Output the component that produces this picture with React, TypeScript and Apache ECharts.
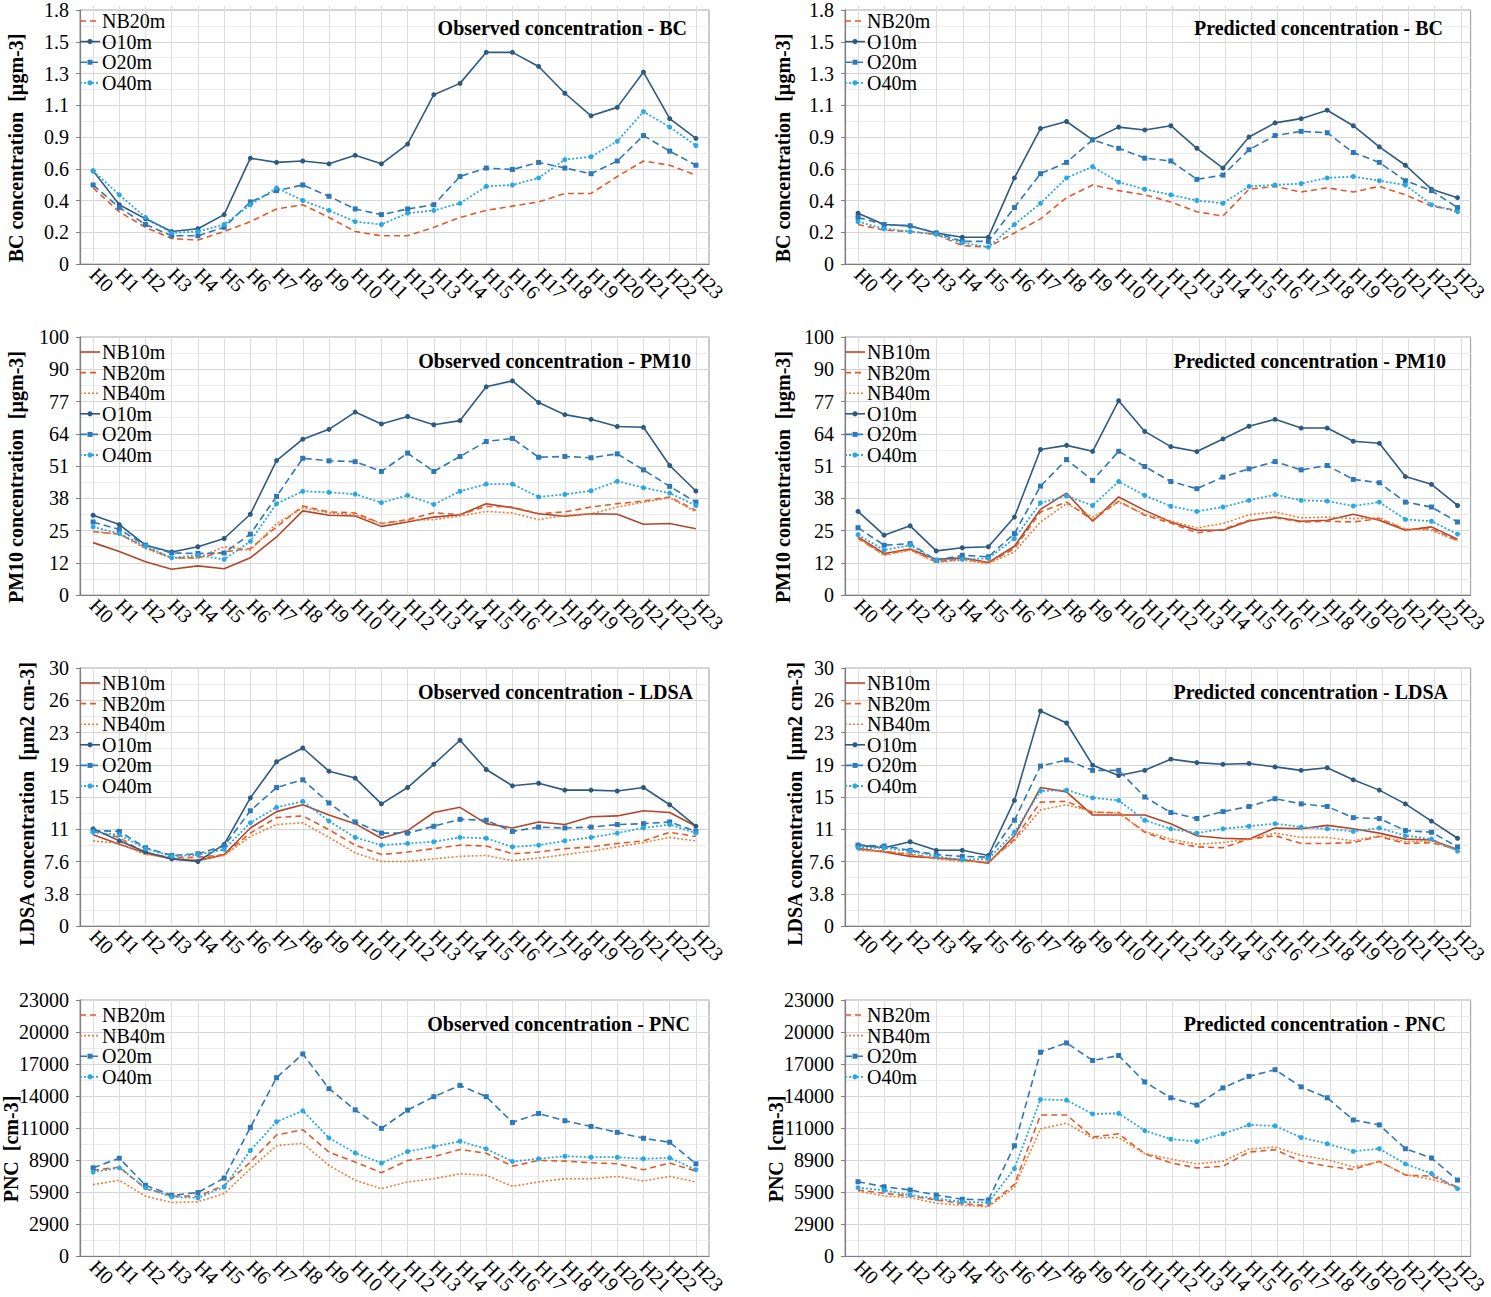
import React, { useEffect, useRef } from "react";
import * as echarts from "echarts";

const hours = ["H0","H1","H2","H3","H4","H5","H6","H7","H8","H9","H10","H11","H12","H13","H14","H15","H16","H17","H18","H19","H20","H21","H22","H23"];

const bcTicks = ["0","0.2","0.4","0.6","0.9","1.1","1.3","1.5","1.8"];
const pmTicks = ["0","12","25","38","51","64","77","90","100"];
const ldTicks = ["0","3.8","7.6","11","15","19","23","26","30"];
const pncTicks = ["0","2900","5900","8900","11000","14000","17000","20000","23000"];

// BC observed
const bcObsNB20 = [0.54,0.37,0.26,0.18,0.17,0.23,0.30,0.39,0.42,0.33,0.23,0.20,0.20,0.26,0.33,0.38,0.41,0.44,0.50,0.50,0.62,0.73,0.70,0.63];
const bcObsO10 = [0.66,0.42,0.32,0.23,0.25,0.35,0.75,0.72,0.73,0.71,0.77,0.71,0.85,1.20,1.28,1.50,1.50,1.40,1.21,1.05,1.11,1.36,1.03,0.89];
const bcObsO20 = [0.56,0.40,0.28,0.20,0.20,0.26,0.44,0.52,0.56,0.48,0.39,0.35,0.39,0.42,0.62,0.68,0.67,0.72,0.68,0.64,0.73,0.91,0.80,0.70];
const bcObsO40 = [0.66,0.49,0.33,0.22,0.23,0.28,0.42,0.54,0.45,0.38,0.30,0.28,0.36,0.38,0.43,0.55,0.56,0.61,0.74,0.76,0.87,1.08,0.97,0.84];
// BC predicted
const bcPrdNB20 = [0.28,0.24,0.23,0.21,0.13,0.12,0.22,0.32,0.47,0.56,0.52,0.49,0.44,0.37,0.34,0.53,0.55,0.51,0.54,0.51,0.55,0.49,0.41,0.38];
const bcPrdO10 = [0.36,0.28,0.27,0.22,0.19,0.19,0.61,0.96,1.01,0.88,0.97,0.95,0.98,0.82,0.68,0.90,1.00,1.03,1.09,0.98,0.83,0.70,0.53,0.47];
const bcPrdO20 = [0.33,0.28,0.27,0.22,0.16,0.16,0.40,0.64,0.72,0.88,0.82,0.75,0.73,0.60,0.63,0.81,0.91,0.94,0.93,0.79,0.72,0.59,0.52,0.40];
const bcPrdO40 = [0.30,0.25,0.23,0.21,0.15,0.12,0.28,0.43,0.61,0.69,0.58,0.53,0.49,0.45,0.43,0.55,0.56,0.57,0.61,0.62,0.59,0.56,0.42,0.37];
// PM10 observed
const pmObsNB10 = [20.3,16.9,12.9,10.0,11.3,10.2,14.4,22.5,32.6,30.9,30.6,26.6,28.3,30.2,31.1,35.4,33.8,31.5,30.5,31.5,31.3,27.4,27.7,25.7];
const pmObsNB20 = [24.5,23.6,18.4,14.4,14.4,16.7,18.0,26.4,34.5,32.2,31.8,27.7,29.2,31.9,31.1,34.4,34.1,31.5,32.2,34.1,35.4,36.4,38.0,32.8];
const pmObsNB40 = [24.7,23.6,18.0,14.2,14.4,18.7,17.4,27.7,33.8,31.8,31.1,27.7,29.0,29.2,30.6,32.4,31.8,29.2,30.9,31.5,34.1,36.0,37.7,32.2];
const pmObsO10 = [30.9,27.3,19.3,16.7,18.7,21.9,31.3,52.1,60.4,64.2,70.9,66.3,69.2,66.0,67.6,80.7,83.0,74.6,69.9,68.1,65.3,65.0,50.2,40.3];
const pmObsO20 = [28.3,25.4,19.3,16.3,16.1,16.3,23.6,38.2,53.0,52.0,51.7,47.9,55.0,47.9,53.7,59.5,60.7,53.4,53.7,53.2,54.7,48.5,42.1,36.0];
const pmObsO40 = [26.4,23.8,18.9,14.4,15.4,13.8,20.8,35.4,40.2,39.8,39.1,35.8,38.6,35.1,40.2,43.0,43.0,38.0,39.0,40.4,44.1,41.6,39.5,34.7];
// PM10 predicted
const pmPrdNB10 = [22.5,16.1,17.8,13.8,14.4,12.6,18.9,33.2,39.5,28.6,38.0,32.8,28.3,25.1,25.1,28.7,30.2,28.6,29.0,31.3,29.0,25.1,26.4,21.6];
const pmPrdNB20 = [21.9,15.7,17.6,12.9,14.0,12.5,18.0,32.2,36.0,29.0,36.4,30.9,27.9,24.1,25.4,29.0,30.0,28.3,28.6,28.3,29.6,25.4,25.7,21.0];
const pmPrdNB40 = [22.1,15.4,17.4,12.6,13.5,12.2,16.7,28.3,35.4,30.2,36.0,31.3,28.7,26.0,27.7,31.1,32.2,29.9,30.2,29.6,29.9,25.5,25.1,21.0];
const pmPrdO10 = [32.4,23.2,26.8,17.1,18.3,18.7,30.2,56.4,58.0,55.7,75.3,63.4,57.5,55.6,60.5,65.4,68.1,64.7,64.7,59.6,58.8,45.9,42.9,34.7];
const pmPrdO20 = [26.1,19.3,19.9,13.5,15.4,14.8,23.8,42.2,52.5,44.4,55.7,49.8,44.0,41.2,45.7,48.9,51.7,48.5,50.2,44.8,43.5,36.0,34.1,28.3];
const pmPrdO40 = [23.4,17.4,19.3,13.5,13.8,14.2,21.9,35.7,38.4,34.7,44.0,38.6,34.4,32.4,34.1,36.7,38.9,36.7,36.4,34.5,36.0,29.3,28.6,23.6];
// LDSA observed
const ldObsNB10 = [10.6,9.5,8.5,7.8,7.6,8.3,11.4,13.3,14.1,12.9,11.9,10.2,11.1,13.2,13.8,11.9,11.4,12.1,11.8,12.7,12.8,13.4,13.2,11.6];
const ldObsNB20 = [11.0,10.3,8.4,8.0,8.0,8.3,10.8,12.6,12.8,11.2,9.4,8.3,8.6,9.0,9.4,9.3,8.4,8.6,9.0,9.2,9.6,9.9,10.9,10.4];
const ldObsNB40 = [9.9,9.6,8.3,7.9,7.7,8.2,10.4,11.8,12.0,10.3,8.5,7.5,7.5,7.8,8.1,8.2,7.6,7.9,8.3,8.7,9.2,9.7,10.3,9.9];
const ldObsO10 = [11.3,9.9,8.6,7.8,7.5,9.5,14.9,19.1,20.7,18.0,17.2,14.2,16.1,18.8,21.6,18.2,16.3,16.6,15.8,15.8,15.7,16.1,14.1,11.6];
const ldObsO20 = [11.1,11.0,9.1,8.2,8.4,9.3,13.4,16.1,17.0,14.3,12.1,10.8,10.8,11.6,12.4,12.3,11.0,11.5,11.4,11.5,11.8,11.9,12.1,11.0];
const ldObsO40 = [10.9,10.6,9.0,8.1,8.3,8.9,12.0,13.8,14.5,12.2,10.3,9.4,9.6,9.8,10.3,10.2,9.2,9.4,9.9,10.3,10.8,11.4,11.8,10.8];
// LDSA predicted
const ldPrdNB10 = [9.0,8.6,8.1,7.9,7.7,7.3,10.5,16.1,15.6,12.9,12.9,12.9,11.9,10.5,10.2,10.1,11.4,11.3,11.7,11.3,10.8,10.1,10.0,8.9];
const ldPrdNB20 = [8.9,8.7,8.3,7.9,7.6,7.4,10.1,14.4,14.5,13.2,13.2,10.9,9.8,9.2,9.1,10.1,10.5,9.6,9.6,9.7,10.4,9.6,9.7,8.9];
const ldPrdNB40 = [8.8,8.7,8.4,7.8,7.5,7.5,9.9,13.5,14.1,13.3,13.1,11.0,10.1,9.5,9.7,10.1,10.8,10.3,10.3,9.9,10.5,9.8,9.9,8.8];
const ldPrdO10 = [9.4,9.1,9.8,8.8,8.8,8.2,14.6,25.0,23.6,18.7,17.5,18.1,19.4,19.0,18.8,18.9,18.5,18.1,18.4,17.0,15.8,14.2,12.2,10.2];
const ldPrdO20 = [9.4,9.3,8.8,8.3,8.1,8.0,12.3,18.6,19.3,18.1,18.1,15.0,13.2,12.5,13.3,13.9,14.8,14.2,13.9,12.6,12.5,11.1,10.9,9.2];
const ldPrdO40 = [9.1,9.1,8.7,8.1,7.7,7.8,10.9,15.7,15.8,14.9,14.6,12.3,11.3,10.8,11.3,11.6,11.9,11.5,11.3,11.0,11.4,10.5,10.1,8.7];
// PNC observed
const pncObsNB20 = [7720,8010,6080,5430,5400,6380,8460,10890,11370,9350,8460,7510,8610,8960,9590,9260,8100,8610,8550,8400,8310,7780,8370,7660];
const pncObsNB40 = [6440,6830,5400,4840,4900,5640,7860,9940,10150,8160,6830,6080,6680,6970,7420,7270,6290,6680,6970,6970,7180,6770,7180,6680];
const pncObsO20 = [7950,8810,6380,5490,5730,7030,11570,16030,18160,15050,13150,11490,13120,14330,15340,14330,12020,12820,12170,11660,11130,10600,10240,8310];
const pncObsO40 = [7570,7950,6170,5340,5250,6230,9500,12080,13060,10630,9290,8370,9410,9850,10330,9650,8520,8760,8990,8900,8900,8760,8840,7780];
// PNC predicted
const pncPrdNB20 = [5960,5660,5420,5070,4740,4540,6460,12690,12690,10700,11000,9220,8390,7940,8090,9370,9570,8540,8090,7800,8540,7290,7200,6220];
const pncPrdNB40 = [5870,5420,5280,4770,4590,4450,6220,11440,11950,10610,10670,9220,8740,8300,8540,9630,9810,9070,8680,8030,8480,7350,6910,6220];
const pncPrdO20 = [6700,6250,5960,5510,5130,5070,9930,18320,19150,17580,18020,15650,14230,13580,15120,16150,16750,15210,14230,12240,11800,9660,8830,6850];
const pncPrdO40 = [6170,5930,5510,5190,4890,4830,7880,14080,14020,12780,12830,11290,10520,10310,11000,11800,11710,10670,10110,9430,9660,8300,7440,6080];

const SERIF = "'Liberation Serif', 'Times New Roman', serif";

const styles: Record<string, any> = {
  NB10m: { color: "#B0472B", type: "solid", width: 1.6, symbol: "none" },
  NB20m: { color: "#E35A2A", type: [6, 4], width: 1.6, symbol: "none" },
  NB40m: { color: "#F27B33", type: [2, 2], width: 1.6, symbol: "none" },
  O10m: { color: "#2E5A80", type: "solid", width: 1.6, symbol: "circle" },
  O20m: { color: "#2E78B6", type: [7, 4], width: 1.6, symbol: "rect" },
  O40m: { color: "#29A8E3", type: [2, 2], width: 1.8, symbol: "circle" },
};

type Panel = {
  title: string;
  yName: string;
  ticks: string[];
  max: number;
  col: number;
  row: number;
  series: { name: string; data: number[] }[];
};

const panels: Panel[] = [
  { title: "Observed concentration - BC", yName: "BC concentration  [µgm-3]", ticks: bcTicks, max: 1.8, col: 0, row: 0,
    series: [{ name: "NB20m", data: bcObsNB20 }, { name: "O10m", data: bcObsO10 }, { name: "O20m", data: bcObsO20 }, { name: "O40m", data: bcObsO40 }] },
  { title: "Predicted concentration - BC", yName: "BC concentration  [µgm-3]", ticks: bcTicks, max: 1.8, col: 1, row: 0,
    series: [{ name: "NB20m", data: bcPrdNB20 }, { name: "O10m", data: bcPrdO10 }, { name: "O20m", data: bcPrdO20 }, { name: "O40m", data: bcPrdO40 }] },
  { title: "Observed concentration - PM10", yName: "PM10 concentration  [µgm-3]", ticks: pmTicks, max: 100, col: 0, row: 1,
    series: [{ name: "NB10m", data: pmObsNB10 }, { name: "NB20m", data: pmObsNB20 }, { name: "NB40m", data: pmObsNB40 }, { name: "O10m", data: pmObsO10 }, { name: "O20m", data: pmObsO20 }, { name: "O40m", data: pmObsO40 }] },
  { title: "Predicted concentration - PM10", yName: "PM10 concentration  [µgm-3]", ticks: pmTicks, max: 100, col: 1, row: 1,
    series: [{ name: "NB10m", data: pmPrdNB10 }, { name: "NB20m", data: pmPrdNB20 }, { name: "NB40m", data: pmPrdNB40 }, { name: "O10m", data: pmPrdO10 }, { name: "O20m", data: pmPrdO20 }, { name: "O40m", data: pmPrdO40 }] },
  { title: "Observed concentration - LDSA", yName: "LDSA concentration  [µm2 cm-3]", ticks: ldTicks, max: 30, col: 0, row: 2,
    series: [{ name: "NB10m", data: ldObsNB10 }, { name: "NB20m", data: ldObsNB20 }, { name: "NB40m", data: ldObsNB40 }, { name: "O10m", data: ldObsO10 }, { name: "O20m", data: ldObsO20 }, { name: "O40m", data: ldObsO40 }] },
  { title: "Predicted concentration - LDSA", yName: "LDSA concentration  [µm2 cm-3]", ticks: ldTicks, max: 30, col: 1, row: 2,
    series: [{ name: "NB10m", data: ldPrdNB10 }, { name: "NB20m", data: ldPrdNB20 }, { name: "NB40m", data: ldPrdNB40 }, { name: "O10m", data: ldPrdO10 }, { name: "O20m", data: ldPrdO20 }, { name: "O40m", data: ldPrdO40 }] },
  { title: "Observed concentration - PNC", yName: "PNC  [cm-3]", ticks: pncTicks, max: 23000, col: 0, row: 3,
    series: [{ name: "NB20m", data: pncObsNB20 }, { name: "NB40m", data: pncObsNB40 }, { name: "O20m", data: pncObsO20 }, { name: "O40m", data: pncObsO40 }] },
  { title: "Predicted concentration - PNC", yName: "PNC  [cm-3]", ticks: pncTicks, max: 23000, col: 1, row: 3,
    series: [{ name: "NB20m", data: pncPrdNB20 }, { name: "NB40m", data: pncPrdNB40 }, { name: "O20m", data: pncPrdO20 }, { name: "O40m", data: pncPrdO40 }] },
];

// layout
const W_TOTAL = 1491;
const colLeft = [80, 845];
const colRight = [709, 1474];
const rowTop = [6, 337, 668, 1000];
const plotH = 258;
const titleRightX = [[687, 691, 693, 690], [1443, 1446, 1448, 1446]];
const titleCY = [29, 362, 693, 1025];
const nameX = [[16, 16, 27, 11], [783, 783, 795, 776]];
const nameY = [148, 477, 804, 1149];

function legendItems(names: string[], L: number, T: number) {
  const out: any[] = [];
  names.forEach((n, k) => {
    const st = styles[n];
    const cy = T + 15 + k * 20.6;
    const dash = st.type === "solid" ? null : st.type;
    out.push({
      type: "line", silent: true, z: 10,
      shape: { x1: L, y1: cy, x2: L + 20, y2: cy },
      style: { stroke: st.color, lineWidth: st.width, lineDash: dash },
    });
    if (st.symbol === "circle") {
      out.push({ type: "circle", silent: true, z: 11, shape: { cx: L + 10, cy, r: 2.6 }, style: { fill: st.color } });
    } else if (st.symbol === "rect") {
      out.push({ type: "rect", silent: true, z: 11, shape: { x: L + 7.5, y: cy - 2.5, width: 5, height: 5 }, style: { fill: st.color } });
    }
    out.push({
      type: "text", silent: true, z: 11, x: L + 22, y: cy,
      style: { text: n, fontSize: 20, fontFamily: SERIF, fill: "#000", textAlign: "left", textVerticalAlign: "middle" },
    });
  });
  return out;
}

function buildOption() {
  const grid: any[] = [];
  const xAxis: any[] = [];
  const yAxis: any[] = [];
  const series: any[] = [];
  const title: any[] = [];
  const graphic: any[] = [];

  panels.forEach((p, i) => {
    const L = colLeft[p.col];
    const R = colRight[p.col];
    const T = rowTop[p.row];
    const W = R - L;
    const half = W / 48;
    const gMain = 2 * i;
    const gOver = 2 * i + 1;
    grid.push({ left: L, top: T, width: W, height: plotH, show: true, borderColor: "#a8a8a8", borderWidth: 1.2, backgroundColor: "transparent" });
    grid.push({ left: L + half, top: T, width: W - 2 * half, height: plotH });

    xAxis.push({
      type: "category", gridIndex: gMain, data: hours, boundaryGap: true,
      axisLine: { show: true, lineStyle: { color: "#7f7f7f", width: 1.2 } },
      axisTick: { show: false },
      axisLabel: { interval: 0, rotate: -45, margin: 7, fontSize: 20, fontFamily: SERIF, color: "#000" },
      splitLine: { show: false },
    });
    xAxis.push({
      type: "category", gridIndex: gOver, data: hours, boundaryGap: false,
      axisLine: { show: false }, axisTick: { show: false }, axisLabel: { show: false },
      splitLine: { show: true, interval: 0, lineStyle: { color: "#dddddd", width: 1 } },
    });
    const interval = p.max / 8;
    const ticks = p.ticks;
    yAxis.push({
      type: "value", gridIndex: gMain, min: 0, max: p.max, interval,
      axisLine: { show: true, lineStyle: { color: "#7f7f7f", width: 1.2 } },
      axisTick: { show: true, length: 4, lineStyle: { color: "#7f7f7f" } },
      axisLabel: { margin: 11, fontSize: 20, fontFamily: SERIF, color: "#000",
        formatter: (v: number) => ticks[Math.round(v / interval)] ?? "" },
      splitLine: { show: true, lineStyle: { color: "#d6d6d6", width: 1 } },
      minorTick: { show: false, splitNumber: 2 },
      minorSplitLine: { show: true, lineStyle: { color: "#ececec", width: 1 } },
    });
    yAxis.push({ type: "value", gridIndex: gOver, min: 0, max: 1, show: false, splitLine: { show: false } });

    p.series.forEach((s) => {
      const st = styles[s.name];
      series.push({
        type: "line", name: s.name, data: s.data, xAxisIndex: gMain, yAxisIndex: gMain,
        symbol: st.symbol, symbolSize: 5, showSymbol: st.symbol !== "none",
        lineStyle: { color: st.color, type: st.type, width: st.width },
        itemStyle: { color: st.color },
        emphasis: { disabled: true }, z: 3,
      });
    });

    graphic.push(...legendItems(p.series.map((s) => s.name), L, T));

    title.push({
      text: p.title, right: W_TOTAL - titleRightX[p.col][p.row], top: titleCY[p.row] - 11, padding: 0,
      textStyle: { fontSize: 20, fontWeight: "bold", fontFamily: SERIF, color: "#000" },
    });

    graphic.push({
      type: "text", x: nameX[p.col][p.row], y: nameY[p.row], rotation: Math.PI / 2,
      style: { text: p.yName, fontSize: 20, fontWeight: "bold", fontFamily: SERIF, fill: "#000", textAlign: "center", textVerticalAlign: "middle" },
    });
  });

  return { animation: false, backgroundColor: "#ffffff", grid, xAxis, yAxis, series, title, graphic };
}

export default function App() {
  const ref = useRef<HTMLDivElement>(null);
  useEffect(() => {
    if (!ref.current) return;
    const chart = echarts.init(ref.current, undefined, { renderer: "svg" });
    chart.setOption(buildOption() as any);
    return () => chart.dispose();
  }, []);
  return <div ref={ref} style={{ position: "absolute", left: 0, top: 0, width: 1491, height: 1297, background: "#fff" }} />;
}
